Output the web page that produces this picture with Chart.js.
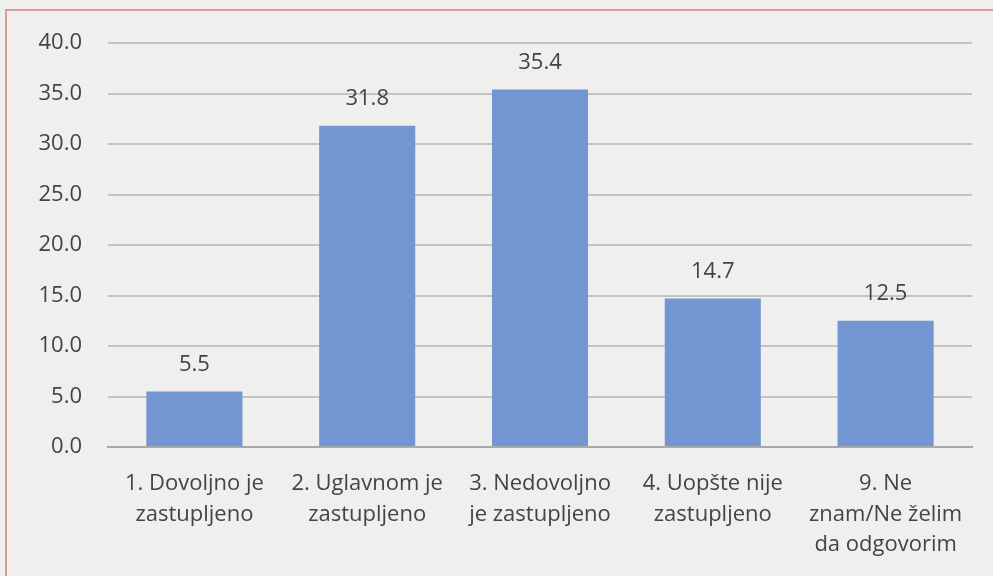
<!DOCTYPE html>
<html lang="sr">
<head>
    <meta charset="UTF-8">
    <title>Zastupljenost</title>
    <style>
        html, body {
            margin: 0;
            padding: 0;
            width: 993px;
            height: 576px;
            overflow: hidden;
            background-color: #efefed;
        }
        .frame {
            position: absolute;
            left: 5px;
            top: 9px;
            width: 1000px;
            height: 600px;
            border: 2px solid #dc9a96;
        }
        .wrap {
            position: absolute;
            left: 0;
            top: 0;
            width: 993px;
            height: 576px;
        }
    </style>
    <script src="https://cdn.jsdelivr.net/npm/chart.js"></script>
</head>
<body>

<div class="frame"></div>
<div class="wrap"><canvas id="chart"></canvas></div>

<script>
    // Categories (wrapped as in the original)
    const categories = [
        ["1. Dovoljno je", "zastupljeno"],
        ["2. Uglavnom je", "zastupljeno"],
        ["3. Nedovoljno", "je zastupljeno"],
        ["4. Uopšte nije", "zastupljeno"],
        ["9. Ne", "znam/Ne želim", "da odgovorim"]
    ];
    const values = [5.5, 31.8, 35.4, 14.7, 12.5];
    const yTicks = [0, 5, 10, 15, 20, 25, 30, 35, 40];

    const textColor = '#444444';
    const fontFamily = '"Open Sans", sans-serif';

    // simple value labels above the bars
    const valueLabels = {
        id: 'valueLabels',
        afterDatasetsDraw(chart) {
            const ctx = chart.ctx;
            const meta = chart.getDatasetMeta(0);
            ctx.save();
            ctx.font = '22px ' + fontFamily;
            ctx.fillStyle = textColor;
            ctx.textAlign = 'center';
            ctx.textBaseline = 'middle';
            meta.data.forEach((bar, i) => {
                ctx.fillText(values[i].toFixed(1), bar.x, bar.y - 27);
            });
            ctx.restore();
        }
    };

    const ctx = document.getElementById('chart').getContext('2d');
    const chart = new Chart(ctx, {
        type: 'bar',
        data: {
            labels: categories,
            datasets: [{
                data: values,
                backgroundColor: '#7396d2',
                borderWidth: 0,
                categoryPercentage: 1,
                barPercentage: 0.556
            }]
        },
        options: {
            responsive: true,
            maintainAspectRatio: false,
            animation: false,
            layout: {
                padding: { left: 0, right: 21, top: 43, bottom: 0 }
            },
            plugins: {
                legend: { display: false },
                tooltip: { enabled: false }
            },
            scales: {
                x: {
                    grid: { display: false, drawTicks: false },
                    border: { display: true, color: '#a9a9a9', width: 2 },
                    ticks: {
                        color: textColor,
                        font: { family: fontFamily, size: 22, lineHeight: 1.38 },
                        padding: 22,
                        maxRotation: 0,
                        autoSkip: false
                    },
                    afterFit(scale) { scale.height = 129; }
                },
                y: {
                    min: 0,
                    max: 40,
                    afterBuildTicks(scale) {
                        scale.ticks = yTicks.map(v => ({ value: v }));
                    },
                    grid: { color: '#c3c3c3', lineWidth: 2, drawTicks: false },
                    border: { display: false },
                    ticks: {
                        color: textColor,
                        font: { family: fontFamily, size: 22 },
                        padding: 26,
                        callback: v => Number(v).toFixed(1)
                    },
                    afterFit(scale) { scale.width = 108; }
                }
            }
        },
        plugins: [valueLabels]
    });
</script>

</body>
</html>
